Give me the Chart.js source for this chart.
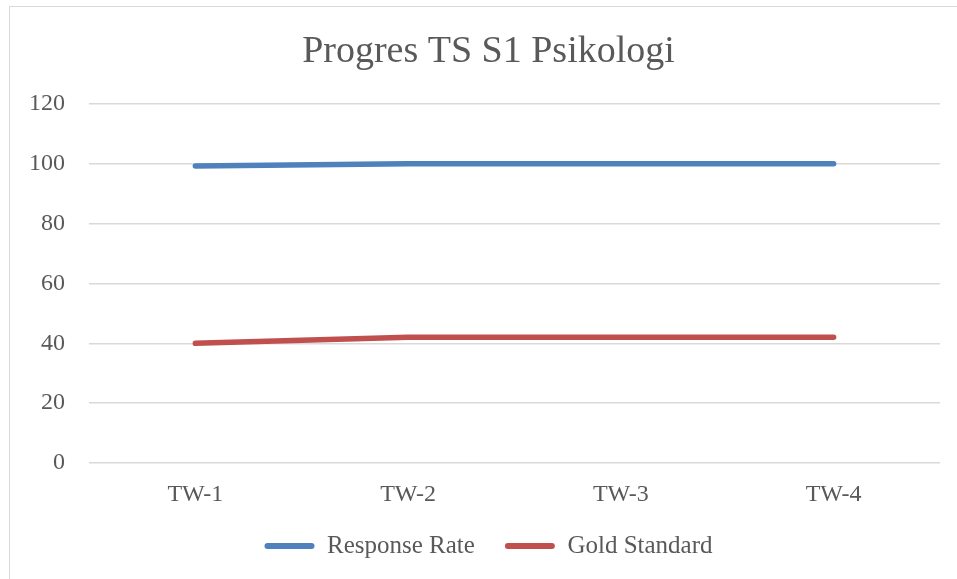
<!DOCTYPE html>
<html><head><meta charset="utf-8">
<script src="https://cdn.jsdelivr.net/npm/chart.js@4"></script>
<style>
html,body{margin:0;padding:0;background:#fff;overflow:hidden;width:957px;height:579px}
#frame{position:absolute;left:9px;top:6px;width:1000px;height:600px;border:1px solid #d9d9d9;box-sizing:border-box}
#wrap{position:absolute;left:0;top:0;width:957px;height:579px}
</style></head><body>
<div id="frame"></div>
<div id="wrap"><canvas id="c" width="957" height="579"></canvas></div>
<script>
const categories = ['TW-1', 'TW-2', 'TW-3', 'TW-4'];
const responseRate = [99.3, 100, 100, 100];
const goldStandard = [40, 42, 42, 42];
const seriesNames = ['Response Rate', 'Gold Standard'];
const yMin = 0, yMax = 120, yStep = 20;
const chartTitle = 'Progres TS S1 Psikologi';

const FONT = "'Liberation Serif', serif";
const GREY = '#595959';
const BLUE = '#4F81BD';
const RED = '#C0504D';

new Chart(document.getElementById('c'), {
  type: 'line',
  data: {
    labels: categories,
    datasets: [
      { label: seriesNames[0], data: responseRate, borderColor: BLUE, backgroundColor: BLUE, borderWidth: 5.5, pointRadius: 0, tension: 0, borderCapStyle: 'round', borderJoinStyle: 'round', yAxisID: 'y' },
      { label: seriesNames[1], data: goldStandard, borderColor: RED, backgroundColor: RED, borderWidth: 5.5, pointRadius: 0, tension: 0, borderCapStyle: 'round', borderJoinStyle: 'round', yAxisID: 'y' }
    ]
  },
  options: {
    responsive: false,
    animation: false,
    layout: { padding: { left: 20, right: 0, top: 0, bottom: 10.5 } },
    plugins: {
      title: {
        display: true, text: chartTitle, color: GREY,
        font: { family: FONT, size: 38, weight: 'normal', lineHeight: 1.2 },
        padding: { top: 29, bottom: 29.4 }
      },
      legend: {
        position: 'bottom',
        labels: {
          font: { family: FONT, size: 25 }, color: GREY,
          boxWidth: 50, boxHeight: 6, padding: 30,
          generateLabels: (chart) => chart.data.datasets.map((d, i) => ({
            text: d.label, fillStyle: d.borderColor, strokeStyle: d.borderColor,
            lineWidth: 0, fontColor: GREY, datasetIndex: i, borderRadius: 3
          }))
        }
      },
      tooltip: { enabled: false }
    },
    scales: {
      x: {
        offset: true,
        grid: { display: false },
        border: { display: false },
        ticks: { font: { family: FONT, size: 24 }, color: GREY, padding: 9 },
        afterFit: (a) => { a.height = 40.5; }
      },
      y: {
        position: 'left',
        min: yMin, max: yMax,
        ticks: { stepSize: yStep, font: { family: FONT, size: 24 }, color: GREY, padding: 24 },
        grid: { color: '#d9d9d9', lineWidth: 1.5, drawTicks: false },
        border: { display: false },
        afterFit: (a) => { a.width = 69; }
      },
      yRightSpace: {
        position: 'right',
        min: yMin, max: yMax,
        ticks: { display: false },
        grid: { display: false, drawOnChartArea: false, drawTicks: false },
        border: { display: false },
        afterFit: (a) => { a.width = 17; }
      }
    }
  }
});
</script>
</body></html>
